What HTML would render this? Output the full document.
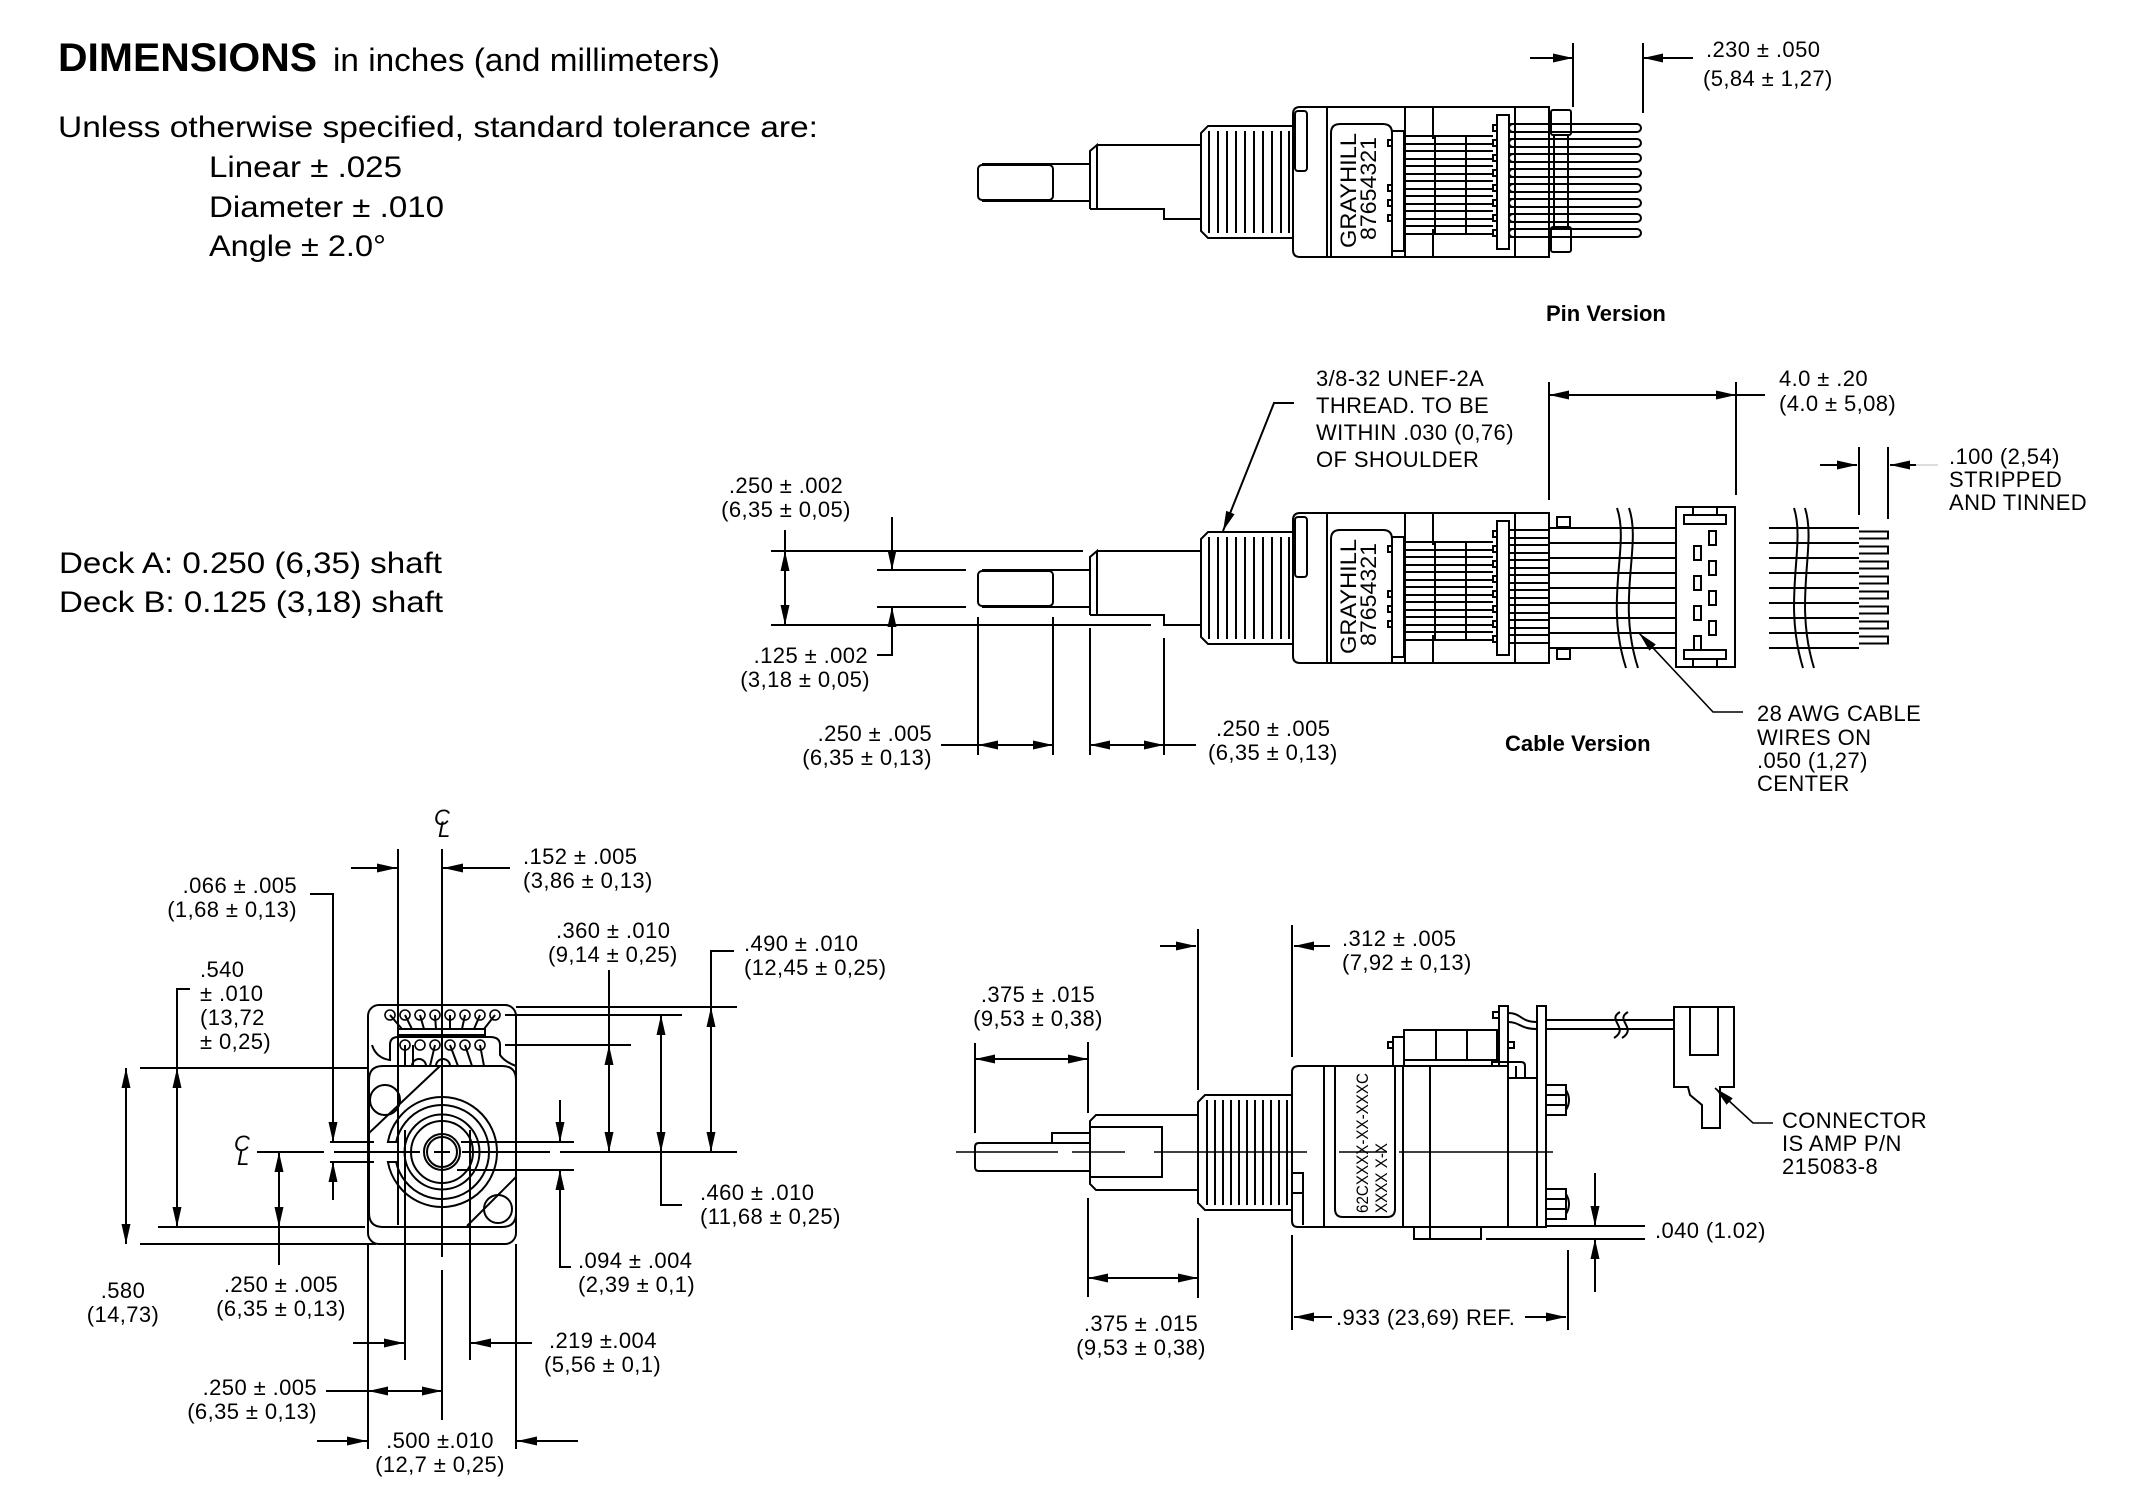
<!DOCTYPE html>
<html><head><meta charset="utf-8">
<style>
html,body{margin:0;padding:0;background:#fff;}
svg{display:block;}
text{font-family:"Liberation Sans",Arial,sans-serif;fill:#000;stroke:none;}
.d{font-size:22px;letter-spacing:0.4px}
.m{text-anchor:middle}
.e{text-anchor:end}
.b{font-weight:bold}
</style></head><body>
<svg width="2139" height="1506" viewBox="0 0 2139 1506" xmlns="http://www.w3.org/2000/svg">
<defs>
<marker id="a" viewBox="0 0 20 9" refX="20" refY="4.5" markerWidth="20" markerHeight="9" markerUnits="userSpaceOnUse" orient="auto-start-reverse"><path d="M0,0 L20,4.5 L0,9 Z" fill="#000" stroke="none"/></marker>
<g id="dev">
 <rect x="978" y="571" width="75" height="35" rx="4"/>
 <path d="M982,570 H1090 M982,607 H1090"/>
 <path d="M1090,615 V557 L1097,551 V615"/>
 <path d="M1097,551 H1201"/>
 <path d="M1090,615 H1164 V625 H1201"/>
 <path d="M1208,532 H1293 V644 H1208 L1201,637 V539 Z"/>
 <path d="M1209,537 V639 M1218,537 V639 M1227,537 V639 M1236,537 V639 M1245,537 V639 M1254,537 V639 M1263,537 V639 M1272,537 V639 M1281,537 V639 M1289,537 V639"/>
 <path d="M1300,513 H1549 V663 H1300 Q1293,663 1293,656 V520 Q1293,513 1300,513 Z"/>
 <rect x="1295" y="517" width="12" height="60" rx="3"/>
 <path d="M1327,513 V663 M1405,513 V663 M1433,513 V545 M1433,635 V663 M1515,513 V663"/>
 <path d="M1331,663 V539 Q1331,530 1340,530 H1383 Q1392,530 1392,539 V663"/>
 <rect x="1392" y="537" width="12" height="120"/>
 <path d="M1388,546 h4 v6 h-4 z M1388,591 h4 v6 h-4 z M1388,606 h4 v6 h-4 z M1388,621 h4 v6 h-4 z"/>
 <rect x="1497" y="521" width="12" height="134"/>
 <path d="M1493,531 h4 v6 h-4 z M1493,546 h4 v6 h-4 z M1493,561 h4 v6 h-4 z M1493,576 h4 v6 h-4 z M1493,591 h4 v6 h-4 z M1493,606 h4 v6 h-4 z M1493,621 h4 v6 h-4 z M1493,636 h4 v6 h-4 z"/>
 <path d="M1405,542 H1493 M1405,550 H1493 M1405,557 H1493 M1405,565 H1493 M1405,572 H1493 M1405,580 H1493 M1405,587 H1493 M1405,595 H1493 M1405,602 H1493 M1405,610 H1493 M1405,617 H1493 M1405,625 H1493 M1405,632 H1493 M1405,640 H1493"/>
 <path d="M1435,542 V640 M1466,542 V640"/>
 <path d="M1509,530 H1549 M1509,538 H1549 M1509,545 H1549 M1509,553 H1549 M1509,560 H1549 M1509,568 H1549 M1509,575 H1549 M1509,583 H1549 M1509,590 H1549 M1509,598 H1549 M1509,605 H1549 M1509,613 H1549 M1509,620 H1549 M1509,628 H1549 M1509,635 H1549 M1509,643 H1549"/>
</g>
</defs>

<!-- ================= HEADER TEXT ================= -->
<text x="58" y="71" font-size="40" font-weight="bold" textLength="259" lengthAdjust="spacingAndGlyphs">DIMENSIONS</text>
<text x="333" y="71" font-size="32" textLength="387" lengthAdjust="spacingAndGlyphs">in inches (and millimeters)</text>
<text x="58" y="137" font-size="30" textLength="760" lengthAdjust="spacingAndGlyphs">Unless otherwise specified, standard tolerance are:</text>
<text x="209" y="177" font-size="30" textLength="193" lengthAdjust="spacingAndGlyphs">Linear ± .025</text>
<text x="209" y="217" font-size="30" textLength="235" lengthAdjust="spacingAndGlyphs">Diameter ± .010</text>
<text x="209" y="256" font-size="30" textLength="177" lengthAdjust="spacingAndGlyphs">Angle ± 2.0°</text>
<text x="59" y="573" font-size="30" textLength="383" lengthAdjust="spacingAndGlyphs">Deck A: 0.250 (6,35) shaft</text>
<text x="59" y="612" font-size="30" textLength="384" lengthAdjust="spacingAndGlyphs">Deck B: 0.125 (3,18) shaft</text>

<g stroke="#000" stroke-width="2" fill="none">

<!-- ================= PIN VERSION ================= -->
<use href="#dev" transform="translate(0,-406)"/>
<rect x="1551" y="110" width="20" height="25" rx="2"/>
<rect x="1551" y="227" width="20" height="25" rx="2"/>
<path d="M1554,135 V227 M1568,135 V227"/>
<rect x="1509" y="124" width="132" height="8" rx="4"/>
<rect x="1509" y="139" width="132" height="8" rx="4"/>
<rect x="1509" y="154" width="132" height="8" rx="4"/>
<rect x="1509" y="169" width="132" height="8" rx="4"/>
<rect x="1509" y="184" width="132" height="8" rx="4"/>
<rect x="1509" y="199" width="132" height="8" rx="4"/>
<rect x="1509" y="214" width="132" height="8" rx="4"/>
<rect x="1509" y="229" width="132" height="8" rx="4"/>
<path d="M1573,43 V107 M1643,43 V113"/>
<line x1="1530" y1="58" x2="1573" y2="58" marker-end="url(#a)"/>
<line x1="1693" y1="58" x2="1643" y2="58" marker-end="url(#a)"/>

<!-- ================= CABLE VERSION ================= -->
<use href="#dev"/>
<rect x="1557" y="517" width="13" height="10"/>
<rect x="1557" y="649" width="13" height="10"/>
<path d="M1549,528 H1676 M1549,543 H1676 M1549,558 H1676 M1549,573 H1676 M1549,588 H1676 M1549,603 H1676 M1549,618 H1676 M1549,633 H1676 M1549,648 H1676"/>
<path d="M1617,508 C1630,545 1604,600 1626,668 M1629,508 C1642,545 1616,600 1638,668"/>
<rect x="1676" y="507" width="59" height="160"/>
<rect x="1684" y="515" width="42" height="9"/>
<rect x="1684" y="650" width="42" height="9"/>
<path d="M1693,507 V515 M1717,507 V515 M1693,659 V667 M1717,659 V667"/>
<path d="M1709,531 h7 v14 h-7 z M1709,561 h7 v14 h-7 z M1709,591 h7 v14 h-7 z M1709,621 h7 v14 h-7 z M1694,546 h7 v14 h-7 z M1694,576 h7 v14 h-7 z M1694,606 h7 v14 h-7 z M1694,636 h7 v14 h-7 z"/>
<path d="M1769,528 H1859 M1769,543 H1859 M1769,558 H1859 M1769,573 H1859 M1769,588 H1859 M1769,603 H1859 M1769,618 H1859 M1769,633 H1859 M1769,648 H1859"/>
<path d="M1794,508 C1806,545 1782,600 1803,668 M1805,508 C1817,545 1793,600 1814,668"/>
<path d="M1859,531.5 h29 v7 h-29 M1859,546.5 h29 v7 h-29 M1859,561.5 h29 v7 h-29 M1859,576.5 h29 v7 h-29 M1859,591.5 h29 v7 h-29 M1859,606.5 h29 v7 h-29 M1859,621.5 h29 v7 h-29 M1859,636.5 h29 v7 h-29"/>
<!-- thread leader -->
<polyline points="1294,403 1274,403 1223,531" marker-end="url(#a)"/>
<!-- 4.0 -->
<path d="M1549,382 V500 M1736,382 V495 M1736,395 H1765"/>
<line x1="1549" y1="395" x2="1736" y2="395" marker-start="url(#a)" marker-end="url(#a)"/>
<!-- .100 -->
<path d="M1859,447 V515 M1888,447 V519"/>
<line x1="1820" y1="465" x2="1857" y2="465" marker-end="url(#a)"/>
<line x1="1916" y1="465" x2="1890" y2="465" marker-end="url(#a)"/>
<line x1="1916" y1="465" x2="1938" y2="465" stroke="#bbb" stroke-width="1"/>
<!-- 28 AWG -->
<polyline points="1743,712 1713,712 1639,633" stroke-width="1.6" marker-end="url(#a)"/>
<!-- shaft dims -->
<path d="M771,551 H1083 M771,625 H1151 M785,530 V551 M877,570 H966 M877,607 H966"/>
<line x1="785" y1="551" x2="785" y2="625" marker-start="url(#a)" marker-end="url(#a)"/>
<line x1="892" y1="517" x2="892" y2="570" marker-end="url(#a)"/>
<polyline points="877,655 892,655 892,607" marker-end="url(#a)"/>
<path d="M978,617 V755 M1053,617 V755 M1090,628 V755 M1164,638 V755 M941,745 H978 M1164,745 H1196"/>
<line x1="978" y1="745" x2="1053" y2="745" marker-start="url(#a)" marker-end="url(#a)"/>
<line x1="1090" y1="745" x2="1164" y2="745" marker-start="url(#a)" marker-end="url(#a)"/>

<!-- ================= FRONT VIEW ================= -->
<rect x="368" y="1005" width="148" height="239" rx="11"/>
<path d="M369,1080 Q369,1066 383,1066 H502 Q516,1066 516,1080 V1213 Q516,1227 502,1227 H383 Q369,1227 369,1213 Z"/>
<path d="M372,1045 Q376,1058 390,1060 V1045 Q390,1037 398,1037 H490 Q500,1037 500,1045 V1055 Q505,1062 516,1066"/>
<rect x="398" y="1029" width="87" height="6"/>
<path d="M390,1015 L402,1029 M405,1015 L412,1029 M420,1015 L424,1029 M435,1015 L436,1029 M450,1015 L450,1029 M465,1015 L462,1029 M480,1015 L474,1029 M495,1015 L484,1029"/>
<path d="M405,1045 V1066 M413,1045 V1066 M435,1045 L430,1066 M450,1045 L458,1066 M465,1045 L472,1066 M480,1045 L484,1066"/>
<path d="M412,1066 A7,7 0 0 1 426,1066 M436,1066 A7,7 0 0 1 450,1066"/>
<g stroke-width="1.6">
<circle cx="390" cy="1015" r="5"/><circle cx="405" cy="1015" r="5"/><circle cx="420" cy="1015" r="5"/><circle cx="435" cy="1015" r="5"/><circle cx="450" cy="1015" r="5"/><circle cx="465" cy="1015" r="5"/><circle cx="480" cy="1015" r="5"/><circle cx="495" cy="1015" r="5"/>
<circle cx="405" cy="1045" r="5"/><circle cx="420" cy="1045" r="5"/><circle cx="435" cy="1045" r="5"/><circle cx="450" cy="1045" r="5"/><circle cx="465" cy="1045" r="5"/><circle cx="480" cy="1045" r="5"/>
</g>
<circle cx="385" cy="1100" r="15"/>
<circle cx="498" cy="1209" r="14"/>
<path d="M369,1133 L440,1066 M467,1226 L516,1177"/>
<path d="M387.9,1142 A55,55 0 1,1 387.9,1162 L396.1,1162 A47,47 0 1,0 396.1,1142 Z"/>
<circle cx="442" cy="1152" r="37.5"/>
<circle cx="442" cy="1152" r="31"/>
<circle cx="442" cy="1152" r="18"/>
<circle cx="442" cy="1152" r="15"/>
<!-- vertical ref lines -->
<path d="M398,849 V1225 M405,1130 V1360 M470,1130 V1360 M442,849 V1257 M442,1270 V1420"/>
<!-- horizontal ref lines -->
<path d="M140,1068 H368 M158,1227 H365 M140,1244 H376 M330,1142 H374 M330,1162 H374"/>
<path d="M257,1152 H324 M334,1152 H420 M434,1152 H450 M462,1152 H550 M560,1152 H737"/>
<path d="M461,1142 H574 M457,1170 H574 M505,1045 H631 M505,1015 H682 M516,1007 H737"/>
<!-- .152 -->
<line x1="351" y1="868" x2="397" y2="868" marker-end="url(#a)"/>
<line x1="510" y1="868" x2="443" y2="868" marker-end="url(#a)"/>
<!-- .066 -->
<polyline points="310,894 333,894 333,1142" marker-end="url(#a)"/>
<line x1="333" y1="1200" x2="333" y2="1162" marker-end="url(#a)"/>
<!-- .540 -->
<polyline points="190,989 177,989 177,1068"/>
<line x1="177" y1="1068" x2="177" y2="1227" marker-start="url(#a)" marker-end="url(#a)"/>
<!-- .580 -->
<line x1="126" y1="1068" x2="126" y2="1244" marker-start="url(#a)" marker-end="url(#a)"/>
<!-- .250 left -->
<line x1="279" y1="1152" x2="279" y2="1227" marker-start="url(#a)" marker-end="url(#a)"/>
<path d="M279,1227 V1265"/>
<!-- .360 -->
<path d="M609,970 V1045"/>
<line x1="609" y1="1045" x2="609" y2="1152" marker-start="url(#a)" marker-end="url(#a)"/>
<!-- .460 -->
<line x1="661" y1="1015" x2="661" y2="1152" marker-start="url(#a)" marker-end="url(#a)"/>
<polyline points="661,1152 661,1205 682,1205"/>
<!-- .490 -->
<polyline points="734,951 711,951 711,1007"/>
<line x1="711" y1="1007" x2="711" y2="1152" marker-start="url(#a)" marker-end="url(#a)"/>
<!-- .094 -->
<line x1="560" y1="1100" x2="560" y2="1142" marker-end="url(#a)"/>
<polyline points="571,1267 560,1267 560,1170" marker-end="url(#a)"/>
<!-- .219 -->
<line x1="353" y1="1343" x2="404" y2="1343" marker-end="url(#a)"/>
<line x1="532" y1="1343" x2="471" y2="1343" marker-end="url(#a)"/>
<!-- .250 bottom -->
<path d="M326,1391 H368"/>
<line x1="368" y1="1391" x2="442" y2="1391" marker-start="url(#a)" marker-end="url(#a)"/>
<!-- .500 -->
<path d="M368,1244 V1449 M516,1244 V1449"/>
<line x1="317" y1="1441" x2="367" y2="1441" marker-end="url(#a)"/>
<line x1="578" y1="1441" x2="517" y2="1441" marker-end="url(#a)"/>

<!-- ================= SIDE VIEW ================= -->
<path d="M956,1152 H1058 M1072,1152 H1125 M1154,1152 H1307 M1339,1152 H1387 M1399,1152 H1553" stroke-width="1.6"/>
<path d="M1090,1143 H1052 V1133 H1090 M1052,1143 H979 Q975,1143 975,1147 V1167 Q975,1171 979,1171 H1090"/>
<path d="M1198,1115 H1096 L1090,1121 V1184 L1096,1190 H1198"/>
<path d="M1090,1127 H1162 V1177 H1090"/>
<path d="M1205,1095 H1292 V1210 H1205 L1198,1203 V1102 Z"/>
<path d="M1207,1100 V1205 M1215,1100 V1205 M1223,1100 V1205 M1231,1100 V1205 M1239,1100 V1205 M1247,1100 V1205 M1255,1100 V1205 M1263,1100 V1205 M1271,1100 V1205 M1279,1100 V1205 M1287,1100 V1205"/>
<path d="M1299,1066 H1508 V1227 H1298 Q1292,1227 1292,1221 V1072 Q1292,1066 1299,1066 Z"/>
<path d="M1324,1066 V1227 M1403,1066 V1227 M1430,1066 V1239"/>
<path d="M1335,1066 V1209 Q1335,1217 1343,1217 H1387 Q1395,1217 1395,1209 V1066"/>
<path d="M1414,1227 V1239 H1481 V1227"/>
<path d="M1292,1173 H1303 V1225 M1292,1193 H1303"/>
<rect x="1508" y="1078" width="29" height="149"/>
<rect x="1537" y="1006" width="9" height="221"/>
<rect x="1499" y="1006" width="9" height="60"/>
<rect x="1404" y="1030" width="93" height="30"/>
<path d="M1436,1030 V1060 M1467,1030 V1060"/>
<rect x="1393" y="1037" width="11" height="29"/>
<rect x="1388" y="1042" width="5" height="6"/>
<rect x="1493" y="1012" width="6" height="6"/>
<rect x="1508" y="1042" width="6" height="6"/>
<path d="M1492,1066 V1062 H1521 Q1525,1062 1525,1066 V1078 M1516,1066 V1078"/>
<path d="M1508,1013 C1522,1013 1520,1022 1537,1022 M1508,1022 C1520,1022 1520,1029 1537,1029"/>
<path d="M1546,1020 H1673 M1546,1029 H1673"/>
<path d="M1620,1012 C1606,1020 1630,1028 1614,1038 M1628,1012 C1614,1020 1638,1028 1622,1038" stroke="#000"/>
<rect x="1546" y="1085" width="20" height="30"/>
<path d="M1546,1095 H1566 M1546,1105 H1566 M1566,1090 Q1572,1100 1566,1110"/>
<rect x="1546" y="1189" width="20" height="30"/>
<path d="M1546,1199 H1566 M1546,1209 H1566 M1566,1194 Q1572,1204 1566,1214"/>
<path d="M1674,1007 H1734 V1087 H1720 V1128 H1702 V1105 L1690,1095 L1688,1087 H1674 Z"/>
<rect x="1690" y="1007" width="28" height="48"/>
<polyline points="1773,1123 1753,1123 1715,1088" stroke-width="1.6" marker-end="url(#a)"/>
<!-- .040 -->
<path d="M1547,1226 H1645 M1486,1239 H1645"/>
<line x1="1595" y1="1173" x2="1595" y2="1226" marker-end="url(#a)"/>
<line x1="1595" y1="1292" x2="1595" y2="1239" marker-end="url(#a)"/>
<!-- .375 upper -->
<path d="M975,1043 V1133 M1088,1042 V1113"/>
<line x1="975" y1="1059" x2="1088" y2="1059" marker-start="url(#a)" marker-end="url(#a)"/>
<!-- .375 lower -->
<path d="M1088,1198 V1297 M1198,1218 V1298"/>
<line x1="1088" y1="1278" x2="1198" y2="1278" marker-start="url(#a)" marker-end="url(#a)"/>
<!-- .312 -->
<path d="M1198,929 V1090 M1292,925 V1057"/>
<line x1="1160" y1="946" x2="1196" y2="946" marker-end="url(#a)"/>
<line x1="1330" y1="946" x2="1294" y2="946" marker-end="url(#a)"/>
<!-- .933 -->
<path d="M1292,1235 V1330 M1568,1250 V1330"/>
<line x1="1332" y1="1317" x2="1294" y2="1317" marker-end="url(#a)"/>
<line x1="1525" y1="1317" x2="1566" y2="1317" marker-end="url(#a)"/>
</g>

<!-- ================= LABELS ================= -->
<!-- rotated device labels -->
<text font-size="22" transform="translate(1356,248) rotate(-90)" textLength="115" lengthAdjust="spacingAndGlyphs">GRAYHILL</text>
<text font-size="22" transform="translate(1376,240) rotate(-90)" textLength="103" lengthAdjust="spacingAndGlyphs">87654321</text>
<text font-size="22" transform="translate(1356,654) rotate(-90)" textLength="115" lengthAdjust="spacingAndGlyphs">GRAYHILL</text>
<text font-size="22" transform="translate(1376,646) rotate(-90)" textLength="103" lengthAdjust="spacingAndGlyphs">87654321</text>
<text font-size="17" transform="translate(1368,1213) rotate(-90)" textLength="140" lengthAdjust="spacingAndGlyphs">62CXXXX-XX-XXXC</text>
<text font-size="17" transform="translate(1387,1213) rotate(-90)" textLength="70" lengthAdjust="spacingAndGlyphs">XXXX X-X</text>

<g transform="translate(0,-2)">
<!-- pin version -->
<text class="d" x="1706" y="59">.230 ± .050</text>
<text class="d" x="1703" y="88">(5,84 ± 1,27)</text>
<text class="b" font-size="22" x="1546" y="323">Pin Version</text>

<!-- cable version -->
<text class="d" x="1316" y="388">3/8-32 UNEF-2A</text>
<text class="d" x="1316" y="415">THREAD. TO BE</text>
<text class="d" x="1316" y="442">WITHIN .030 (0,76)</text>
<text class="d" x="1316" y="469">OF SHOULDER</text>
<text class="d" x="1779" y="388">4.0 ± .20</text>
<text class="d" x="1779" y="413">(4.0 ± 5,08)</text>
<text class="d" x="1949" y="466">.100 (2,54)</text>
<text class="d" x="1949" y="489">STRIPPED</text>
<text class="d" x="1949" y="512">AND TINNED</text>
<text class="d m" x="786" y="495">.250 ± .002</text>
<text class="d m" x="786" y="519">(6,35 ± 0,05)</text>
<text class="d e" x="868" y="665">.125 ± .002</text>
<text class="d e" x="870" y="689">(3,18 ± 0,05)</text>
<text class="d e" x="932" y="743">.250 ± .005</text>
<text class="d e" x="932" y="767">(6,35 ± 0,13)</text>
<text class="d" x="1216" y="738">.250 ± .005</text>
<text class="d" x="1208" y="762">(6,35 ± 0,13)</text>
<text class="b" font-size="22" x="1505" y="753">Cable Version</text>
<text class="d" x="1757" y="723">28 AWG CABLE</text>
<text class="d" x="1757" y="747">WIRES ON</text>
<text class="d" x="1757" y="770">.050 (1,27)</text>
<text class="d" x="1757" y="793">CENTER</text>

<!-- front view -->
<text font-size="22" font-style="italic" x="434" y="827">C</text>
<text font-size="22" font-style="italic" x="438" y="839">L</text>
<text font-size="22" font-style="italic" x="234" y="1153">C</text>
<text font-size="22" font-style="italic" x="237" y="1167">L</text>
<text class="d e" x="297" y="895">.066 ± .005</text>
<text class="d e" x="297" y="919">(1,68 ± 0,13)</text>
<text class="d" x="523" y="866">.152 ± .005</text>
<text class="d" x="523" y="890">(3,86 ± 0,13)</text>
<text class="d" x="200" y="979">.540</text>
<text class="d" x="200" y="1003">± .010</text>
<text class="d" x="200" y="1027">(13,72</text>
<text class="d" x="200" y="1051">± 0,25)</text>
<text class="d" x="556" y="940">.360 ± .010</text>
<text class="d" x="548" y="964">(9,14 ± 0,25)</text>
<text class="d" x="744" y="953">.490 ± .010</text>
<text class="d" x="744" y="977">(12,45 ±  0,25)</text>
<text class="d" x="700" y="1202">.460 ± .010</text>
<text class="d" x="700" y="1226">(11,68 ± 0,25)</text>
<text class="d" x="578" y="1270">.094 ± .004</text>
<text class="d" x="578" y="1294">(2,39 ± 0,1)</text>
<text class="d m" x="123" y="1300">.580</text>
<text class="d m" x="123" y="1324">(14,73)</text>
<text class="d m" x="281" y="1294">.250 ± .005</text>
<text class="d m" x="281" y="1318">(6,35 ± 0,13)</text>
<text class="d" x="549" y="1350">.219 ±.004</text>
<text class="d" x="544" y="1374">(5,56 ± 0,1)</text>
<text class="d e" x="317" y="1397">.250 ± .005</text>
<text class="d e" x="317" y="1421">(6,35 ± 0,13)</text>
<text class="d m" x="440" y="1450">.500 ±.010</text>
<text class="d m" x="440" y="1474">(12,7 ± 0,25)</text>

<!-- side view -->
<text class="d m" x="1038" y="1004">.375 ± .015</text>
<text class="d m" x="1038" y="1028">(9,53 ±  0,38)</text>
<text class="d" x="1342" y="948">.312 ± .005</text>
<text class="d" x="1342" y="972">(7,92 ± 0,13)</text>
<text class="d m" x="1141" y="1333">.375 ± .015</text>
<text class="d m" x="1141" y="1357">(9,53 ±  0,38)</text>
<text class="d" x="1336" y="1327">.933 (23,69) REF.</text>
<text class="d" x="1655" y="1240">.040 (1.02)</text>
<text class="d" x="1782" y="1130">CONNECTOR</text>
<text class="d" x="1782" y="1153">IS AMP P/N</text>
<text class="d" x="1782" y="1176">215083-8</text>
</g>
</svg>
</body></html>
